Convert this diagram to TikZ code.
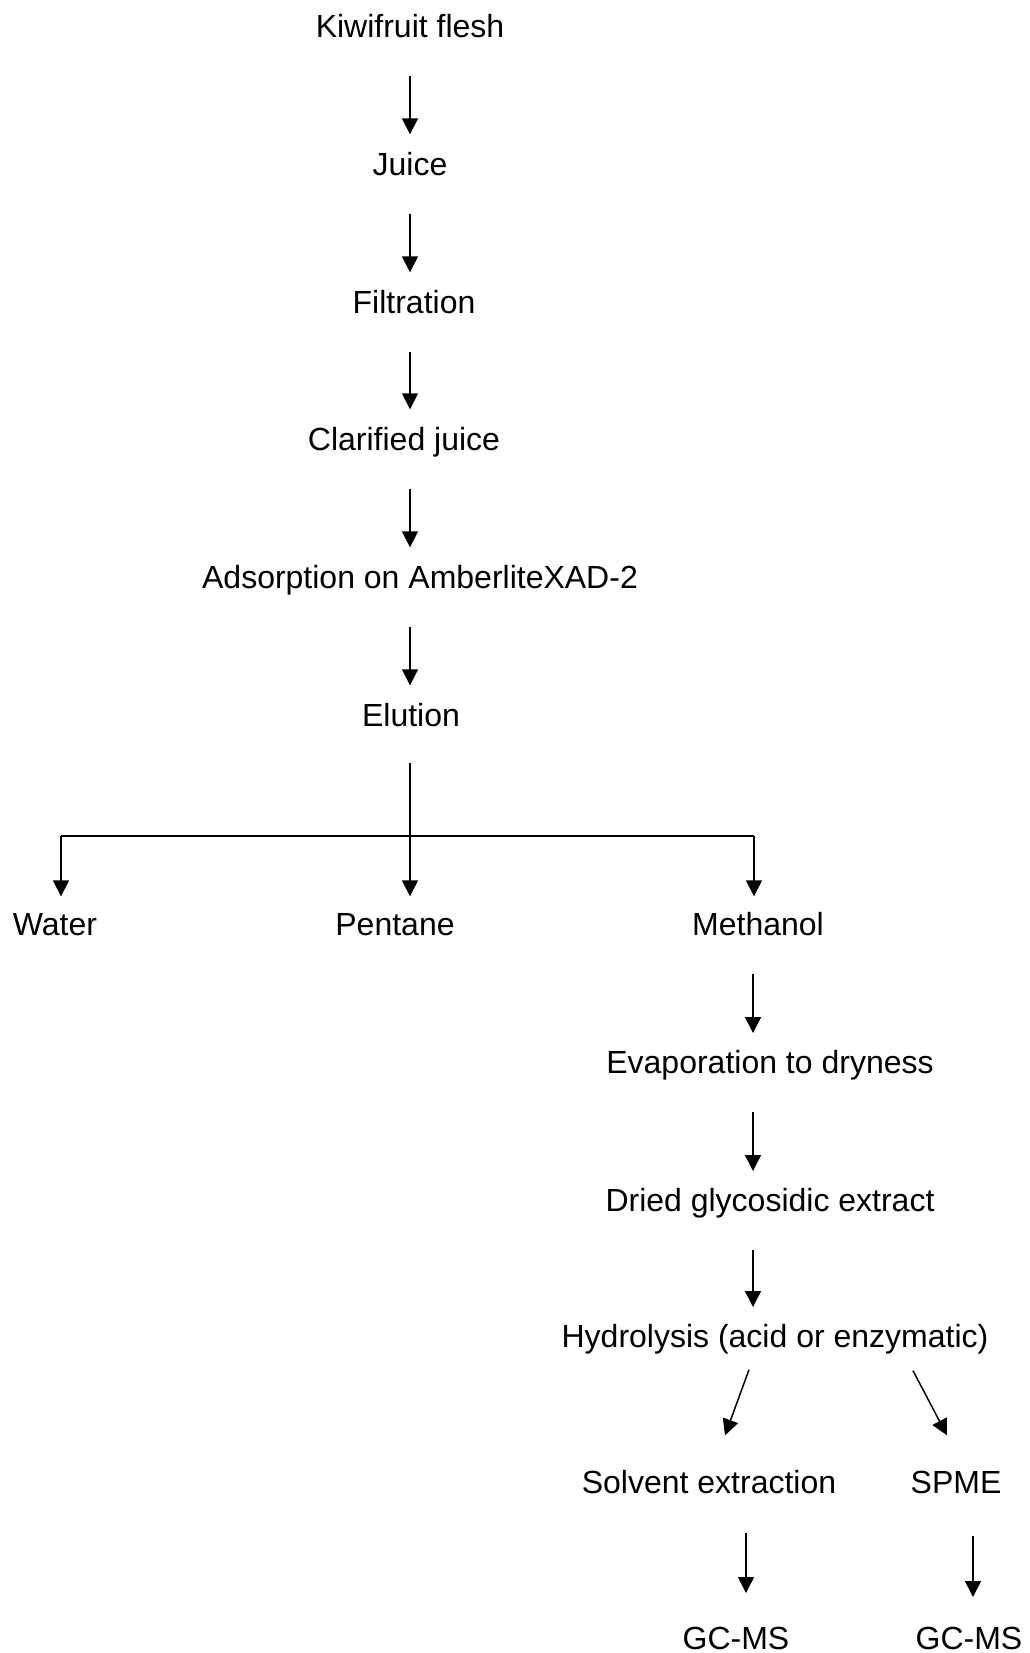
\documentclass[tikz,border=0pt]{standalone}
\usepackage{fontspec}
\setmainfont{Liberation Sans}
\usetikzlibrary{arrows.meta}
\begin{document}
\begin{tikzpicture}[x=0.75pt,y=-0.75pt,
  lbl/.style={anchor=base,inner sep=0pt,outer sep=0pt,text height=17pt,text depth=5pt,font=\fontsize{24}{28}\selectfont},
  arr/.style={line width=1.1pt,-{Triangle[length=12pt,width=12pt]}},
  bar/.style={line width=1.6pt}]
\useasboundingbox (0,0) rectangle (1030,1653);
% nodes (positions in pixels, baselines)
\node[lbl] (kiwi)  at (410,37.5) {Kiwifruit flesh};
\node[lbl] (juice) at (410,175) {Juice};
\node[lbl] (filt)  at (414,313) {Filtration};
\node[lbl] (clar)  at (404,450) {Clarified juice};
\node[lbl] (ads)   at (420,588) {Adsorption on AmberliteXAD-2};
\node[lbl] (elu)   at (411,726) {Elution};
\node[lbl] (water) at (55,935) {Water};
\node[lbl] (pent)  at (395,935) {Pentane};
\node[lbl] (meth)  at (758,935) {Methanol};
\node[lbl] (evap)  at (770,1073) {Evaporation to dryness};
\node[lbl] (dried) at (770,1211) {Dried glycosidic extract};
\node[lbl] (hydro) at (775,1347) {Hydrolysis (acid or enzymatic)};
\node[lbl] (solv)  at (709,1493) {Solvent extraction};
\node[lbl] (spme)  at (956,1493) {SPME};
\node[lbl] (gc1)   at (736,1649) {GC-MS};
\node[lbl] (gc2)   at (969,1649) {GC-MS};
% axis coordinates
\coordinate (cx) at (410,0);
\coordinate (mx) at (753,0);
\coordinate (sx) at (746,0);
\coordinate (px) at (973,0);
\coordinate (wl) at (61,836);
\coordinate (ml) at (754,836);
\coordinate (fk) at (410,836);
% main column
\draw[arr,shorten <=24pt,shorten >=13.5pt] (kiwi.south -| cx) -- (juice.north -| cx);
\draw[arr,shorten <=24pt,shorten >=13.5pt] (juice.south -| cx) -- (filt.north -| cx);
\draw[arr,shorten <=24pt,shorten >=13.5pt] (filt.south -| cx) -- (clar.north -| cx);
\draw[arr,shorten <=24pt,shorten >=13.5pt] (clar.south -| cx) -- (ads.north -| cx);
\draw[arr,shorten <=24pt,shorten >=13.5pt] (ads.south -| cx) -- (elu.north -| cx);
% fork
\draw[arr,shorten <=23pt,shorten >=12pt] (elu.south -| cx) -- (pent.north -| cx);
\draw[bar] (wl) -- (ml);
\draw[arr,shorten >=12pt] (wl) -- (water.north -| wl);
\draw[arr,shorten >=12pt] (ml) -- (meth.north -| ml);
% methanol branch
\draw[arr,shorten <=24pt,shorten >=13pt] (meth.south -| mx) -- (evap.north -| mx);
\draw[arr,shorten <=24pt,shorten >=13pt] (evap.south -| mx) -- (dried.north -| mx);
\draw[arr,shorten <=24pt,shorten >=13pt] (dried.south -| mx) -- (hydro.north -| mx);
% split
\draw[arr] ([shift={(-26,16)}]hydro.south) -- ([shift={(16,-35)}]solv.north);
\draw[arr] ([shift={(138,17)}]hydro.south) -- ([shift={(-9,-35)}]spme.north);
% final arrows
\draw[arr,shorten <=25pt,shorten >=25pt] (solv.south -| sx) -- (gc1.north -| sx);
\draw[arr,shorten <=27.5pt,shorten >=22pt] (spme.south -| px) -- (gc2.north -| px);
\end{tikzpicture}
\end{document}
